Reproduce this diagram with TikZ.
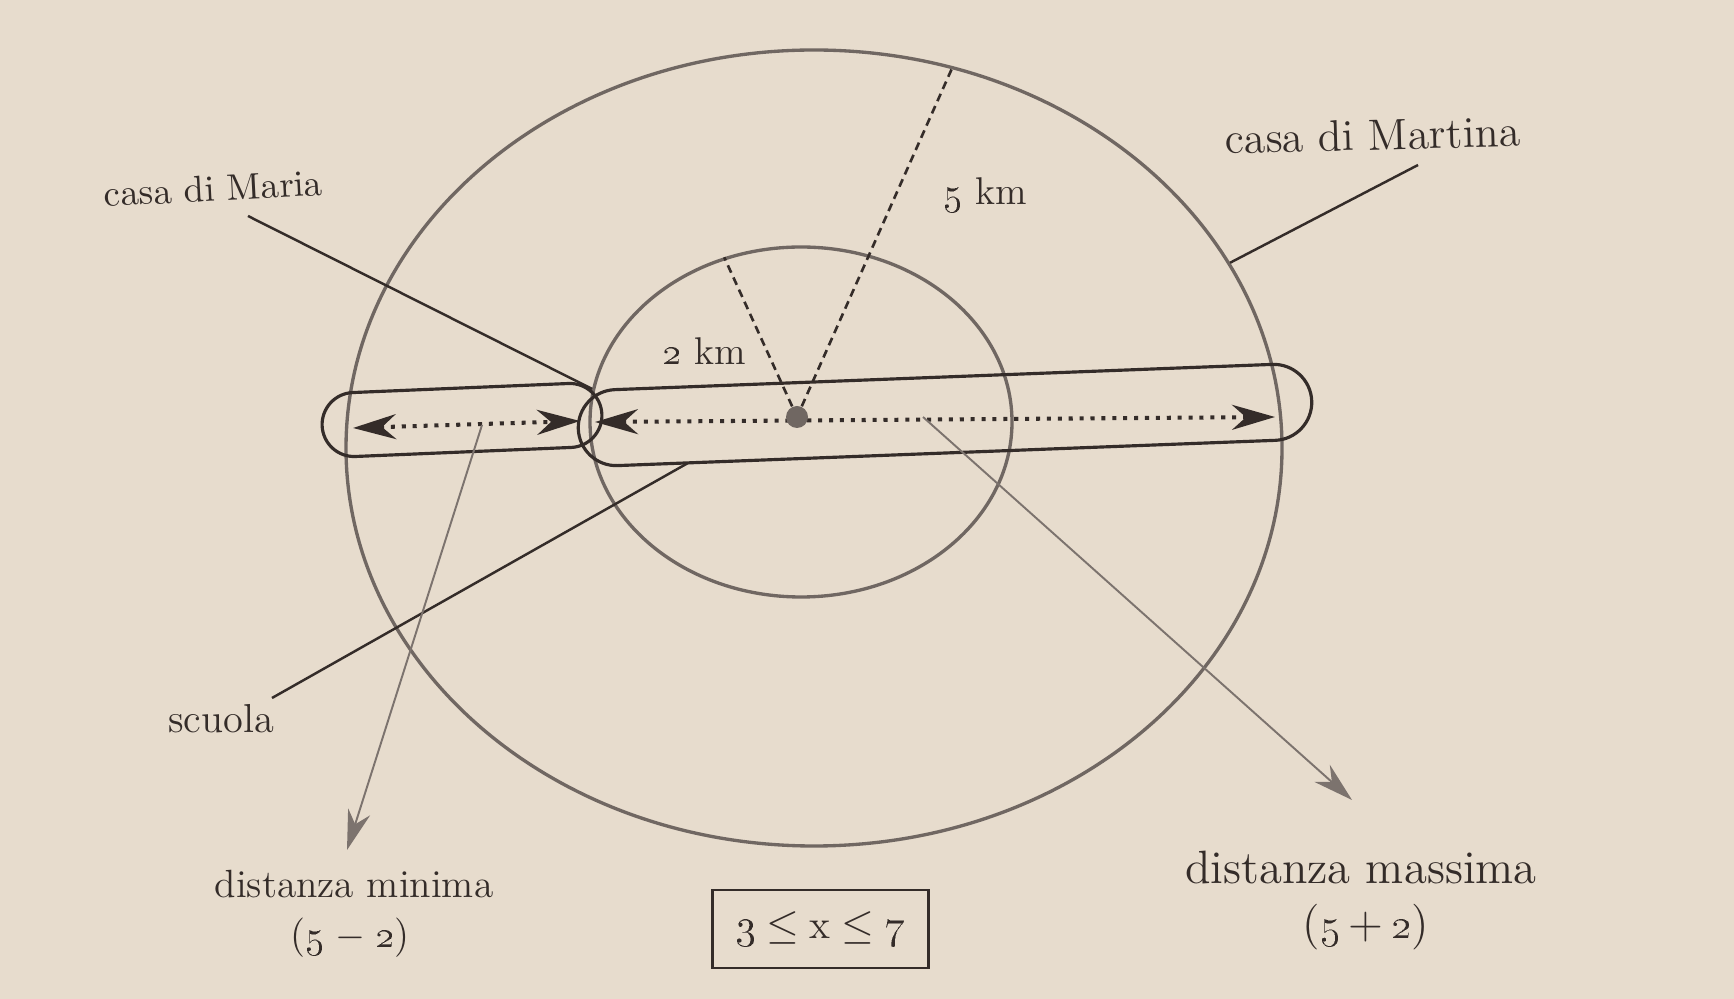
\documentclass[tikz,border=0pt]{standalone}
\usepackage{tikz}
\usetikzlibrary{arrows.meta, shapes.geometric, shapes.misc}
\definecolor{paper}{RGB}{231,220,205}
\definecolor{ink}{RGB}{52,44,41}
\definecolor{pencil}{RGB}{112,103,98}
\definecolor{leadgray}{RGB}{124,115,110}
\newcommand{\osn}[1]{\oldstylenums{#1}}
\newcommand{\fsz}[1]{\fontsize{#1}{#1}\selectfont}
\tikzset{
  txt/.style={text=ink, inner sep=0pt, anchor=base},
  ring/.style={ellipse, draw=pencil, line width=0.95pt, inner sep=0pt},
  capsule/.style={rounded rectangle, draw=ink, line width=0.9pt, inner sep=0pt},
  leader/.style={ink, line width=0.7pt},
  radline/.style={ink, line width=0.75pt, dash pattern=on 2.3pt off 1.5pt},
  distline/.style={ink, line width=1.15pt, dash pattern=on 1.15pt off 1.95pt,
    arrows={Stealth[length=4.3mm,width=2.5mm]-Stealth[length=4.3mm,width=2.5mm]}},
  pointer/.style={leadgray, line width=0.55pt, -{Stealth[length=4mm,width=2.3mm]}},
}

\begin{document}
\begin{tikzpicture}[x=0.1mm, y=-0.1mm]
    % Page
    \fill[paper] (0,0) rectangle (1734,999);
    \useasboundingbox (0,0) rectangle (1734,999);
    % The two circles (5 km and 2 km)
    \node[ring, minimum width=93.6mm, minimum height=79.6mm] (outer) at (814,448) {};
    \node[ring, minimum width=42.2mm, minimum height=35mm] (inner) at (801,422) {};
    % Bands of the two distances
    \node[capsule, minimum width=28mm, minimum height=6.4mm, rotate=2.4] (lcap) at (462,420) {};
    \node[capsule, minimum width=73.4mm, minimum height=7.6mm, rotate=2.2] (rcap) at (945,415) {};
    % Dotted distances
    \coordinate (minA) at (353,428);
    \coordinate (minB) at (580,421);
    \coordinate (maxA) at (595,422);
    \coordinate (maxB) at (1275,417);
    \draw[distline] (minA) -- (minB);
    \draw[distline] (maxA) -- (maxB);
    % Centre
    \node[circle, fill=pencil, inner sep=0pt, minimum size=2.2mm] (ctr) at (797,417) {};
    % Radii
    \draw[radline] (ctr) -- (inner.115);
    \draw[radline] (ctr) -- (outer.70);
    \node[txt, font=\fsz{11}] (two) at (704,365) {\osn{2} km};
    \node[txt, font=\fsz{11}] (five) at (985,205) {\osn{5} km};
    % Houses and school
    \node[txt, font=\fsz{10.5}, rotate=3] (maria) at (214,201) {casa di Maria};
    \coordinate (mariaA) at (248,216);
    \draw[leader] (mariaA) -- (inner.171);
    \node[txt, font=\fsz{12.5}, rotate=1.5] (martina) at (1373,150) {casa di Martina};
    \coordinate (martinaA) at (1418,165);
    \draw[leader] (martinaA) -- (outer.24);
    \node[txt, font=\fsz{11.5}] (scuola) at (221,733) {scuola};
    \coordinate (scuolaA) at (272,698);
    \coordinate (scuolaB) at (688,463);
    \draw[leader] (scuolaA) -- (scuolaB);
    % Minimum and maximum
    \coordinate (minP) at (482,425);
    \coordinate (minQ) at (347,850);
    \draw[pointer] (minP) -- (minQ);
    \coordinate (maxP) at (923,417);
    \coordinate (maxQ) at (1352,800);
    \draw[pointer] (maxP) -- (maxQ);
    \node[txt, font=\fsz{11.2}] (minima) at (354,897) {distanza minima};
    \node[txt, font=\fsz{11.2}] (minval) at (350,947) {(\osn{5}\hspace{3pt}$-$\hspace{3pt}\osn{2})};
    \node[txt, font=\fsz{13.3}] (massima) at (1361,883) {distanza massima};
    \node[txt, font=\fsz{13}] (maxval) at (1366,938) {(\osn{5}\,+\,\osn{2})};
    % Result
    \node[draw=ink, line width=0.85pt, minimum width=21.6mm, minimum height=7.8mm, text=ink, font=\fsz{11.5}] (bound) at (820,929)
      {\osn{3}\hspace{3pt}$\leq$\hspace{3pt}x\hspace{3pt}$\leq$\hspace{3pt}\osn{7}};
\end{tikzpicture}
\end{document}
